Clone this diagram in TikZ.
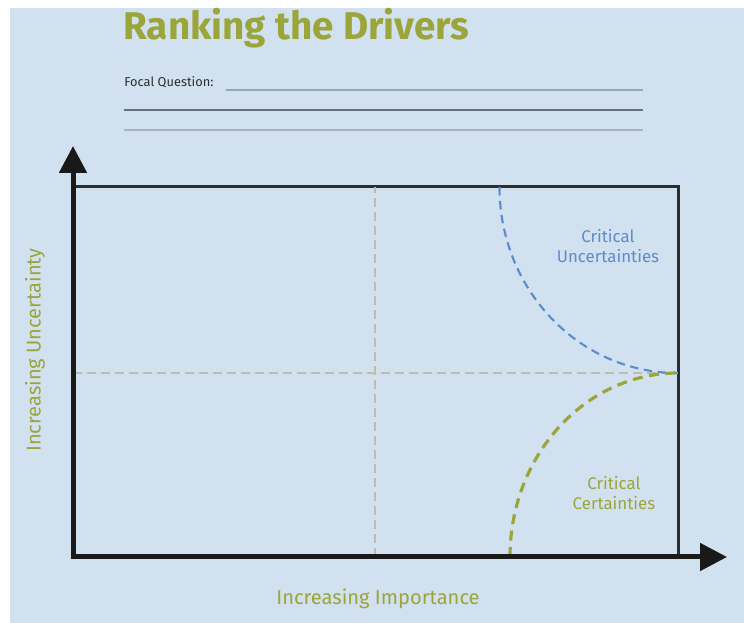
\documentclass[tikz,border=0pt]{standalone}
\usepackage{fontspec}
\setmainfont{Fira Sans}
\usetikzlibrary{arrows.meta}

\definecolor{bgblue}{RGB}{209,225,239}
\definecolor{olive}{RGB}{155,165,58}
\definecolor{dashblue}{RGB}{92,140,204}
\definecolor{midgray}{RGB}{192,187,172}
\definecolor{ruleblue}{RGB}{150,166,182}
\definecolor{ruledark}{RGB}{100,112,126}
\definecolor{inkgray}{RGB}{45,45,45}

\tikzset{
  axis/.style={line width=0.1cm, black!90, -{Triangle[length=0.54cm, width=0.54cm]}},
  frame/.style={line width=0.06cm, inkgray},
  midline/.style={midgray, line width=1.1pt, dash pattern=on 0.18cm off 0.1cm},
  label/.style={olive, font=\fontsize{9.6}{11.2}\selectfont, align=center}
}

\begin{document}
\begin{tikzpicture}
  \useasboundingbox (0,0) rectangle (14.88,12.46);
  \fill[bgblue] (0.2,0) rectangle (14.88,12.3);

  % title and focal question
  \node[anchor=base west, inner sep=0, olive, font=\fontsize{22}{24}\selectfont\bfseries] (title) at (2.46,11.66) {Ranking the Drivers};
  \node[anchor=base west, inner sep=0, inkgray, font=\fontsize{7.3}{8}\selectfont] (focal) at (2.48,10.72) {Focal Question:};
  \draw[ruleblue, line width=1pt] (4.52,10.66) -- (12.86,10.66);
  \draw[ruledark, line width=0.9pt] (2.48,10.26) -- (12.86,10.26);
  \draw[ruleblue!85, line width=0.9pt] (2.48,9.86) -- (12.86,9.86);

  % the grid
  \coordinate (O) at (1.46,1.32);
  \coordinate (TL) at (1.46,8.72);
  \coordinate (TR) at (13.56,8.72);
  \coordinate (BR) at (13.56,1.32);
  \draw[frame] (TL) -- (TR) -- (BR);
  \draw[midline] (7.5,1.32) -- (7.5,8.72);
  \draw[midline] (1.46,5.0) -- (13.56,5.0);

  % critical zones
  \draw[dashblue, line width=1.2pt, dash pattern=on 0.17cm off 0.11cm]
    (9.99,8.72) arc[start angle=180, end angle=270, x radius=3.56, y radius=3.72];
  \draw[olive, line width=1.8pt, dash pattern=on 0.2cm off 0.13cm]
    (10.2,1.32) arc[start angle=180, end angle=90, x radius=3.36, y radius=3.68];

  % axes
  \coordinate (ytip) at (1.46,9.54);
  \coordinate (xtip) at (14.54,1.32);
  \draw[axis] ([yshift=-0.05cm]O) -- (ytip);
  \draw[axis] ([xshift=-0.05cm]O) -- (xtip);

  % labels
  \node[label, text=dashblue] (uncert) at (12.16,7.54) {Critical\\Uncertainties};
  \node[label] (cert) at (12.28,2.6) {Critical\\Certainties};
  \node[label, font=\fontsize{11.4}{12}\selectfont, rotate=90] (ylabel) at (0.7,5.46) {Increasing Uncertainty};
  \node[label, font=\fontsize{11.45}{12}\selectfont] (xlabel) at (7.56,0.48) {Increasing Importance};
\end{tikzpicture}
\end{document}
